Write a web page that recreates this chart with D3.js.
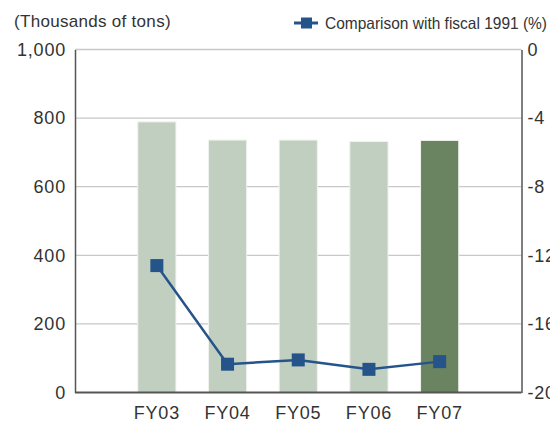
<!DOCTYPE html>
<html><head><meta charset="utf-8">
<script src="https://cdn.jsdelivr.net/npm/d3@7"></script>
<style>body{margin:0;background:#fff}svg{display:block}</style>
</head><body>
<script>
const categories = ["FY03","FY04","FY05","FY06","FY07"];
const tonnage = [789, 736, 736, 732, 735];
const comparison = [-12.6, -18.35, -18.1, -18.65, -18.2];
const leftTicks = [0, 200, 400, 600, 800, 1000];
const rightTicks = [0, -4, -8, -12, -16, -20];
const highlight = "FY07";

const W = 550, H = 423;
const svg = d3.select("body").append("svg").attr("width", W).attr("height", H);
const x0 = 75, x1 = 521.5, yTop = 49.5, yBot = 392.5;
const font = "Liberation Sans, Arial, sans-serif";

const y = d3.scaleLinear().domain([0, 1000]).range([yBot, yTop]);
const y2 = d3.scaleLinear().domain([-20, 0]).range([yBot, yTop]);
const x = d3.scaleBand().domain(categories).range([121.5, 475]).paddingInner(0.46).paddingOuter(0.23);

// gridlines
svg.append("g").selectAll("line").data(leftTicks.filter(d => d > 0)).join("line")
  .attr("x1", x0).attr("x2", x1).attr("y1", d => y(d)).attr("y2", d => y(d))
  .attr("stroke", "#c8c8c8").attr("stroke-width", 1.3);

// bars
svg.append("g").selectAll("rect").data(categories).join("rect")
  .attr("x", d => x(d)).attr("width", x.bandwidth())
  .attr("y", (d, i) => y(tonnage[i])).attr("height", (d, i) => yBot - y(tonnage[i]))
  .attr("fill", d => d === highlight ? "#6a8360" : "#c1cfc1")
  .attr("stroke", "#f2f2ee").attr("stroke-width", 1);

// axes
const axL = d3.axisLeft(y).tickValues(leftTicks).tickSize(0).tickPadding(9).tickFormat(d3.format(","));
const gL = svg.append("g").attr("transform", `translate(${x0},0)`).call(axL);
const axR = d3.axisRight(y2).tickValues(rightTicks).tickSize(0).tickPadding(6).tickFormat(d => d);
const gR = svg.append("g").attr("transform", `translate(${x1},0)`).call(axR);
const axB = d3.axisBottom(x).tickSize(0).tickPadding(14);
const gB = svg.append("g").attr("transform", `translate(0,${yBot})`).call(axB);
gB.select(".domain").remove();
svg.append("line").attr("x1", x0).attr("x2", x1).attr("y1", yBot).attr("y2", yBot)
  .attr("stroke", "#555").attr("stroke-width", 2);
[gL, gR].forEach(g => g.select(".domain").attr("stroke", "#555").attr("stroke-width", 1.5));
[gL, gR, gB].forEach(g => g.selectAll("text").attr("font-family", font).attr("font-size", 18)
  .attr("fill", "#333").attr("letter-spacing", 0.8));

// line
const line = d3.line().x((d, i) => x(categories[i]) + x.bandwidth() / 2).y(d => y2(d));
svg.append("path").datum(comparison).attr("d", line).attr("fill", "none")
  .attr("stroke", "#25548a").attr("stroke-width", 2.5);
const s = 13;
svg.append("g").selectAll("rect").data(comparison).join("rect")
  .attr("x", (d, i) => x(categories[i]) + x.bandwidth() / 2 - s / 2)
  .attr("y", d => y2(d) - s / 2).attr("width", s).attr("height", s).attr("fill", "#25548a");

// title
svg.append("text").attr("x", 14).attr("y", 27).text("(Thousands of tons)")
  .attr("font-family", font).attr("font-size", 17).attr("fill", "#333").attr("letter-spacing", 0.3);

// legend
const lg = svg.append("g").attr("transform", "translate(294,23)");
lg.append("line").attr("x1", 0).attr("x2", 24).attr("stroke", "#25548a").attr("stroke-width", 3);
lg.append("rect").attr("x", 7).attr("y", -5.5).attr("width", 11).attr("height", 11).attr("fill", "#25548a");
lg.append("text").attr("x", 31).attr("y", 5.5).text("Comparison with fiscal 1991 (%)")
  .attr("font-family", font).attr("font-size", 16.5).attr("fill", "#333")
  .attr("textLength", 222).attr("lengthAdjust", "spacingAndGlyphs");
</script>
</body></html>
